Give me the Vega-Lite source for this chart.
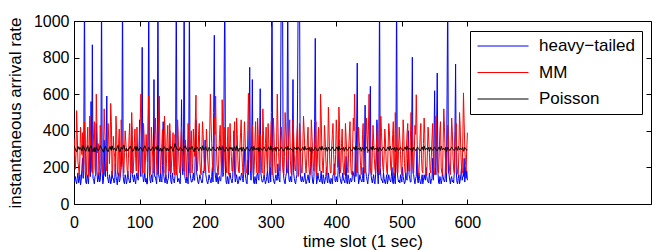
{
"$schema":"https://vega.github.io/schema/vega-lite/v6.json",
"width":577,"height":183,
"autosize":{"type":"none"},
"padding":{"left":74,"top":21,"right":13,"bottom":46},
"background":"white",
"config":{"view":{"stroke":"#000","strokeWidth":1},"font":"Liberation Sans"},
"data":{"values":[
{"t":0,"h":120,"m":360,"p":320},{"t":1,"h":135,"m":300,"p":308},{"t":2,"h":150,"m":190,"p":300},{"t":3,"h":125,"m":270,"p":292},{"t":4,"h":110,"m":510,"p":285},
{"t":5,"h":140,"m":380,"p":298},{"t":6,"h":170,"m":230,"p":315},{"t":7,"h":115,"m":200,"p":306},{"t":8,"h":130,"m":160,"p":298},{"t":9,"h":160,"m":250,"p":310},
{"t":10,"h":105,"m":420,"p":305},{"t":11,"h":130,"m":330,"p":296},{"t":12,"h":190,"m":270,"p":290},{"t":13,"h":250,"m":390,"p":302},{"t":14,"h":140,"m":180,"p":322},
{"t":15,"h":400,"m":220,"p":311},{"t":16,"h":1200,"m":450,"p":300},{"t":17,"h":180,"m":340,"p":294},{"t":18,"h":120,"m":210,"p":288},{"t":19,"h":110,"m":160,"p":299},
{"t":20,"h":160,"m":330,"p":310},{"t":21,"h":140,"m":420,"p":318},{"t":22,"h":110,"m":150,"p":296},{"t":23,"h":170,"m":240,"p":287},{"t":24,"h":300,"m":480,"p":305},
{"t":25,"h":150,"m":360,"p":312},{"t":26,"h":560,"m":250,"p":318},{"t":27,"h":200,"m":180,"p":303},{"t":28,"h":870,"m":170,"p":292},{"t":29,"h":140,"m":290,"p":286},
{"t":30,"h":130,"m":390,"p":300},{"t":31,"h":110,"m":450,"p":309},{"t":32,"h":150,"m":200,"p":284},{"t":33,"h":160,"m":160,"p":296},{"t":34,"h":440,"m":600,"p":312},
{"t":35,"h":180,"m":420,"p":304},{"t":36,"h":120,"m":280,"p":300},{"t":37,"h":135,"m":330,"p":291},{"t":38,"h":170,"m":160,"p":295},{"t":39,"h":120,"m":210,"p":305},
{"t":40,"h":130,"m":430,"p":320},{"t":41,"h":200,"m":360,"p":310},{"t":42,"h":1200,"m":240,"p":305},{"t":43,"h":170,"m":180,"p":297},{"t":44,"h":110,"m":170,"p":290},
{"t":45,"h":130,"m":310,"p":283},{"t":46,"h":350,"m":520,"p":300},{"t":47,"h":160,"m":400,"p":308},{"t":48,"h":150,"m":310,"p":315},{"t":49,"h":280,"m":230,"p":305},
{"t":50,"h":590,"m":180,"p":298},{"t":51,"h":150,"m":260,"p":290},{"t":52,"h":130,"m":440,"p":286},{"t":53,"h":115,"m":350,"p":298},{"t":54,"h":160,"m":220,"p":308},
{"t":55,"h":140,"m":300,"p":314},{"t":56,"h":110,"m":550,"p":300},{"t":57,"h":125,"m":450,"p":293},{"t":58,"h":180,"m":160,"p":318},{"t":59,"h":140,"m":190,"p":306},
{"t":60,"h":140,"m":370,"p":296},{"t":61,"h":115,"m":290,"p":302},{"t":62,"h":120,"m":260,"p":304},{"t":63,"h":220,"m":180,"p":295},{"t":64,"h":150,"m":480,"p":290},
{"t":65,"h":130,"m":400,"p":299},{"t":66,"h":105,"m":190,"p":312},{"t":67,"h":150,"m":160,"p":320},{"t":68,"h":170,"m":330,"p":300},{"t":69,"h":120,"m":410,"p":293},
{"t":70,"h":130,"m":150,"p":285},{"t":71,"h":165,"m":230,"p":297},{"t":72,"h":200,"m":460,"p":310},{"t":73,"h":300,"m":350,"p":303},{"t":74,"h":1200,"m":240,"p":300},
{"t":75,"h":150,"m":200,"p":311},{"t":76,"h":120,"m":170,"p":322},{"t":77,"h":110,"m":280,"p":308},{"t":78,"h":160,"m":400,"p":295},{"t":79,"h":140,"m":340,"p":289},
{"t":80,"h":110,"m":280,"p":305},{"t":81,"h":130,"m":190,"p":298},{"t":82,"h":180,"m":160,"p":290},{"t":83,"h":145,"m":250,"p":301},{"t":84,"h":130,"m":370,"p":300},
{"t":85,"h":115,"m":440,"p":312},{"t":86,"h":120,"m":210,"p":316},{"t":87,"h":200,"m":170,"p":305},{"t":88,"h":420,"m":500,"p":298},{"t":89,"h":160,"m":380,"p":290},
{"t":90,"h":140,"m":170,"p":288},{"t":91,"h":120,"m":230,"p":297},{"t":92,"h":160,"m":330,"p":306},{"t":93,"h":130,"m":410,"p":314},{"t":94,"h":110,"m":250,"p":300},
{"t":95,"h":150,"m":180,"p":292},{"t":96,"h":170,"m":420,"p":314},{"t":97,"h":140,"m":300,"p":305},{"t":98,"h":130,"m":160,"p":292},{"t":99,"h":250,"m":240,"p":300},
{"t":100,"h":460,"m":360,"p":300},{"t":101,"h":180,"m":450,"p":309},{"t":102,"h":150,"m":600,"p":308},{"t":103,"h":380,"m":320,"p":300},{"t":104,"h":856,"m":200,"p":295},
{"t":105,"h":160,"m":170,"p":288},{"t":106,"h":120,"m":440,"p":305},{"t":107,"h":140,"m":360,"p":312},{"t":108,"h":170,"m":170,"p":318},{"t":109,"h":120,"m":240,"p":306},
{"t":110,"h":140,"m":380,"p":300},{"t":111,"h":110,"m":300,"p":293},{"t":112,"h":110,"m":230,"p":288},{"t":113,"h":300,"m":420,"p":299},{"t":114,"h":1200,"m":590,"p":310},
{"t":115,"h":170,"m":380,"p":303},{"t":116,"h":130,"m":160,"p":300},{"t":117,"h":115,"m":210,"p":291},{"t":118,"h":160,"m":420,"p":296},{"t":119,"h":140,"m":330,"p":304},
{"t":120,"h":120,"m":260,"p":312},{"t":121,"h":250,"m":170,"p":301},{"t":122,"h":680,"m":180,"p":290},{"t":123,"h":150,"m":300,"p":297},{"t":124,"h":150,"m":470,"p":305},
{"t":125,"h":130,"m":380,"p":313},{"t":126,"h":110,"m":210,"p":300},{"t":127,"h":200,"m":160,"p":294},{"t":128,"h":1200,"m":380,"p":318},{"t":129,"h":160,"m":450,"p":308},
{"t":130,"h":140,"m":590,"p":296},{"t":131,"h":120,"m":300,"p":289},{"t":132,"h":170,"m":170,"p":305},{"t":133,"h":130,"m":240,"p":298},{"t":134,"h":120,"m":330,"p":288},
{"t":135,"h":210,"m":410,"p":300},{"t":136,"h":450,"m":220,"p":300},{"t":137,"h":150,"m":170,"p":311},{"t":138,"h":130,"m":480,"p":312},{"t":139,"h":115,"m":370,"p":302},
{"t":140,"h":160,"m":150,"p":298},{"t":141,"h":140,"m":220,"p":290},{"t":142,"h":110,"m":360,"p":306},{"t":143,"h":130,"m":430,"p":297},{"t":144,"h":140,"m":250,"p":290},
{"t":145,"h":200,"m":180,"p":303},{"t":146,"h":400,"m":440,"p":300},{"t":147,"h":160,"m":330,"p":314},{"t":148,"h":120,"m":170,"p":316},{"t":149,"h":110,"m":240,"p":305},
{"t":150,"h":170,"m":300,"p":295},{"t":151,"h":140,"m":390,"p":288},{"t":152,"h":130,"m":200,"p":305},{"t":153,"h":115,"m":160,"p":312},{"t":154,"h":150,"m":380,"p":330},
{"t":155,"h":350,"m":300,"p":318},{"t":156,"h":1200,"m":160,"p":310},{"t":157,"h":180,"m":230,"p":299},{"t":158,"h":120,"m":460,"p":300},{"t":159,"h":130,"m":380,"p":293},
{"t":160,"h":140,"m":230,"p":290},{"t":161,"h":120,"m":170,"p":302},{"t":162,"h":110,"m":170,"p":312},{"t":163,"h":250,"m":340,"p":305},{"t":164,"h":570,"m":420,"p":300},
{"t":165,"h":200,"m":280,"p":291},{"t":166,"h":160,"m":270,"p":296},{"t":167,"h":300,"m":180,"p":304},{"t":168,"h":1200,"m":180,"p":305},{"t":169,"h":150,"m":300,"p":313},
{"t":170,"h":130,"m":350,"p":318},{"t":171,"h":115,"m":240,"p":306},{"t":172,"h":150,"m":150,"p":300},{"t":173,"h":140,"m":280,"p":294},{"t":174,"h":110,"m":440,"p":288},
{"t":175,"h":240,"m":360,"p":297},{"t":176,"h":1200,"m":200,"p":308},{"t":177,"h":170,"m":170,"p":300},{"t":178,"h":140,"m":330,"p":300},{"t":179,"h":120,"m":400,"p":310},
{"t":180,"h":120,"m":170,"p":315},{"t":181,"h":140,"m":220,"p":303},{"t":182,"h":170,"m":410,"p":294},{"t":183,"h":130,"m":330,"p":286},{"t":184,"h":130,"m":260,"p":305},
{"t":185,"h":280,"m":450,"p":299},{"t":186,"h":460,"m":595,"p":300},{"t":187,"h":170,"m":300,"p":308},{"t":188,"h":150,"m":180,"p":312},{"t":189,"h":120,"m":240,"p":302},
{"t":190,"h":110,"m":380,"p":290},{"t":191,"h":135,"m":440,"p":297},{"t":192,"h":160,"m":230,"p":303},{"t":193,"h":140,"m":170,"p":311},{"t":194,"h":130,"m":160,"p":300},
{"t":195,"h":115,"m":300,"p":292},{"t":196,"h":120,"m":450,"p":318},{"t":197,"h":180,"m":380,"p":307},{"t":198,"h":170,"m":270,"p":295},{"t":199,"h":220,"m":190,"p":300},
{"t":200,"h":350,"m":180,"p":305},{"t":201,"h":160,"m":260,"p":313},{"t":202,"h":140,"m":410,"p":300},{"t":203,"h":120,"m":330,"p":292},{"t":204,"h":110,"m":240,"p":288},
{"t":205,"h":130,"m":190,"p":297},{"t":206,"h":160,"m":170,"p":310},{"t":207,"h":140,"m":400,"p":304},{"t":208,"h":130,"m":600,"p":300},{"t":209,"h":115,"m":450,"p":290},
{"t":210,"h":150,"m":330,"p":296},{"t":211,"h":200,"m":230,"p":305},{"t":212,"h":120,"m":180,"p":312},{"t":213,"h":500,"m":320,"p":301},{"t":214,"h":922,"m":470,"p":300},
{"t":215,"h":180,"m":380,"p":294},{"t":216,"h":140,"m":590,"p":290},{"t":217,"h":120,"m":330,"p":298},{"t":218,"h":170,"m":220,"p":305},{"t":219,"h":130,"m":180,"p":311},
{"t":220,"h":110,"m":160,"p":300},{"t":221,"h":145,"m":270,"p":293},{"t":222,"h":150,"m":380,"p":316},{"t":223,"h":125,"m":430,"p":307},{"t":224,"h":130,"m":250,"p":296},
{"t":225,"h":210,"m":180,"p":300},{"t":226,"h":320,"m":570,"p":305},{"t":227,"h":150,"m":400,"p":312},{"t":228,"h":160,"m":170,"p":300},{"t":229,"h":700,"m":240,"p":292},
{"t":230,"h":1200,"m":420,"p":288},{"t":231,"h":180,"m":350,"p":298},{"t":232,"h":120,"m":210,"p":310},{"t":233,"h":110,"m":170,"p":303},{"t":234,"h":150,"m":340,"p":300},
{"t":235,"h":130,"m":420,"p":291},{"t":236,"h":110,"m":160,"p":296},{"t":237,"h":160,"m":230,"p":305},{"t":238,"h":170,"m":440,"p":312},{"t":239,"h":140,"m":330,"p":300},
{"t":240,"h":130,"m":260,"p":300},{"t":241,"h":115,"m":180,"p":309},{"t":242,"h":140,"m":180,"p":290},{"t":243,"h":250,"m":290,"p":297},{"t":244,"h":400,"m":370,"p":305},
{"t":245,"h":170,"m":450,"p":313},{"t":246,"h":120,"m":150,"p":300},{"t":247,"h":140,"m":210,"p":292},{"t":248,"h":160,"m":470,"p":318},{"t":249,"h":130,"m":380,"p":306},
{"t":250,"h":110,"m":240,"p":295},{"t":251,"h":120,"m":180,"p":288},{"t":252,"h":150,"m":170,"p":305},{"t":253,"h":135,"m":300,"p":299},{"t":254,"h":130,"m":390,"p":300},
{"t":255,"h":160,"m":460,"p":310},{"t":256,"h":170,"m":280,"p":288},{"t":257,"h":140,"m":200,"p":296},{"t":258,"h":120,"m":160,"p":310},{"t":259,"h":200,"m":330,"p":302},
{"t":260,"h":300,"m":450,"p":300},{"t":261,"h":170,"m":360,"p":291},{"t":262,"h":140,"m":220,"p":296},{"t":263,"h":115,"m":170,"p":305},{"t":264,"h":110,"m":170,"p":312},
{"t":265,"h":240,"m":400,"p":303},{"t":266,"h":160,"m":605,"p":300},{"t":267,"h":450,"m":420,"p":293},{"t":268,"h":747,"m":300,"p":290},{"t":269,"h":200,"m":230,"p":298},
{"t":270,"h":130,"m":180,"p":305},{"t":271,"h":300,"m":340,"p":313},{"t":272,"h":680,"m":430,"p":300},{"t":273,"h":180,"m":280,"p":292},{"t":274,"h":120,"m":160,"p":316},
{"t":275,"h":110,"m":210,"p":306},{"t":276,"h":150,"m":350,"p":296},{"t":277,"h":130,"m":450,"p":301},{"t":278,"h":110,"m":240,"p":305},{"t":279,"h":160,"m":170,"p":296},
{"t":280,"h":170,"m":470,"p":300},{"t":281,"h":140,"m":380,"p":310},{"t":282,"h":130,"m":170,"p":288},{"t":283,"h":300,"m":240,"p":295},{"t":284,"h":630,"m":380,"p":310},
{"t":285,"h":170,"m":300,"p":302},{"t":286,"h":140,"m":200,"p":300},{"t":287,"h":120,"m":170,"p":293},{"t":288,"h":120,"m":520,"p":296},{"t":289,"h":140,"m":400,"p":305},
{"t":290,"h":160,"m":160,"p":312},{"t":291,"h":130,"m":230,"p":303},{"t":292,"h":110,"m":330,"p":300},{"t":293,"h":125,"m":420,"p":290},{"t":294,"h":150,"m":250,"p":290},
{"t":295,"h":180,"m":180,"p":299},{"t":296,"h":130,"m":440,"p":305},{"t":297,"h":115,"m":350,"p":313},{"t":298,"h":170,"m":180,"p":300},{"t":299,"h":200,"m":240,"p":294},
{"t":300,"h":120,"m":360,"p":318},{"t":301,"h":500,"m":450,"p":306},{"t":302,"h":1200,"m":160,"p":295},{"t":303,"h":180,"m":210,"p":288},{"t":304,"h":140,"m":470,"p":305},
{"t":305,"h":120,"m":390,"p":297},{"t":306,"h":110,"m":230,"p":300},{"t":307,"h":140,"m":170,"p":310},{"t":308,"h":160,"m":170,"p":288},{"t":309,"h":130,"m":320,"p":296},
{"t":310,"h":130,"m":600,"p":310},{"t":311,"h":220,"m":430,"p":303},{"t":312,"h":150,"m":280,"p":300},{"t":313,"h":130,"m":200,"p":292},{"t":314,"h":120,"m":180,"p":296},
{"t":315,"h":400,"m":300,"p":305},{"t":316,"h":1200,"m":420,"p":312},{"t":317,"h":1200,"m":350,"p":304},{"t":318,"h":1200,"m":220,"p":300},{"t":319,"h":200,"m":170,"p":290},
{"t":320,"h":140,"m":160,"p":290},{"t":321,"h":120,"m":260,"p":298},{"t":322,"h":110,"m":500,"p":305},{"t":323,"h":150,"m":400,"p":311},{"t":324,"h":170,"m":300,"p":300},
{"t":325,"h":450,"m":200,"p":294},{"t":326,"h":1200,"m":170,"p":316},{"t":327,"h":180,"m":290,"p":307},{"t":328,"h":130,"m":400,"p":296},{"t":329,"h":120,"m":460,"p":302},
{"t":330,"h":150,"m":240,"p":305},{"t":331,"h":130,"m":170,"p":298},{"t":332,"h":120,"m":160,"p":300},{"t":333,"h":300,"m":300,"p":293},{"t":334,"h":680,"m":460,"p":288},
{"t":335,"h":170,"m":380,"p":297},{"t":336,"h":140,"m":270,"p":310},{"t":337,"h":120,"m":190,"p":303},{"t":338,"h":110,"m":180,"p":300},{"t":339,"h":140,"m":270,"p":309},
{"t":340,"h":160,"m":380,"p":296},{"t":341,"h":600,"m":440,"p":300},{"t":342,"h":1200,"m":150,"p":312},{"t":343,"h":1200,"m":200,"p":305},{"t":344,"h":1200,"m":440,"p":300},
{"t":345,"h":170,"m":360,"p":291},{"t":346,"h":130,"m":230,"p":290},{"t":347,"h":120,"m":170,"p":298},{"t":348,"h":150,"m":170,"p":305},{"t":349,"h":130,"m":320,"p":312},
{"t":350,"h":120,"m":480,"p":300},{"t":351,"h":140,"m":400,"p":293},{"t":352,"h":170,"m":300,"p":316},{"t":353,"h":130,"m":210,"p":308},{"t":354,"h":110,"m":170,"p":296},
{"t":355,"h":125,"m":250,"p":301},{"t":356,"h":140,"m":360,"p":305},{"t":357,"h":160,"m":420,"p":297},{"t":358,"h":130,"m":220,"p":300},{"t":359,"h":115,"m":170,"p":310},
{"t":360,"h":160,"m":160,"p":288},{"t":361,"h":200,"m":280,"p":295},{"t":362,"h":300,"m":460,"p":310},{"t":363,"h":160,"m":370,"p":302},{"t":364,"h":120,"m":270,"p":300},
{"t":365,"h":110,"m":200,"p":292},{"t":366,"h":150,"m":180,"p":296},{"t":367,"h":450,"m":290,"p":305},{"t":368,"h":905,"m":400,"p":312},{"t":369,"h":200,"m":450,"p":303},
{"t":370,"h":110,"m":160,"p":300},{"t":371,"h":130,"m":220,"p":291},{"t":372,"h":170,"m":340,"p":290},{"t":373,"h":140,"m":420,"p":300},{"t":374,"h":130,"m":220,"p":305},
{"t":375,"h":120,"m":180,"p":312},{"t":376,"h":140,"m":600,"p":300},{"t":377,"h":180,"m":480,"p":294},{"t":378,"h":120,"m":300,"p":316},{"t":379,"h":110,"m":210,"p":306},
{"t":380,"h":160,"m":170,"p":296},{"t":381,"h":140,"m":260,"p":302},{"t":382,"h":110,"m":430,"p":305},{"t":383,"h":130,"m":360,"p":297},{"t":384,"h":150,"m":250,"p":300},
{"t":385,"h":200,"m":180,"p":309},{"t":386,"h":130,"m":160,"p":288},{"t":387,"h":115,"m":290,"p":296},{"t":388,"h":170,"m":530,"p":310},{"t":389,"h":140,"m":400,"p":303},
{"t":390,"h":120,"m":240,"p":300},{"t":391,"h":110,"m":170,"p":292},{"t":392,"h":140,"m":170,"p":296},{"t":393,"h":130,"m":300,"p":305},{"t":394,"h":110,"m":380,"p":312},
{"t":395,"h":160,"m":440,"p":302},{"t":396,"h":160,"m":270,"p":300},{"t":397,"h":220,"m":190,"p":294},{"t":398,"h":130,"m":160,"p":290},{"t":399,"h":120,"m":270,"p":299},
{"t":400,"h":150,"m":460,"p":305},{"t":401,"h":130,"m":380,"p":312},{"t":402,"h":120,"m":200,"p":300},{"t":403,"h":200,"m":250,"p":292},{"t":404,"h":350,"m":530,"p":316},
{"t":405,"h":160,"m":420,"p":306},{"t":406,"h":140,"m":170,"p":296},{"t":407,"h":120,"m":200,"p":301},{"t":408,"h":110,"m":330,"p":305},{"t":409,"h":140,"m":410,"p":297},
{"t":410,"h":170,"m":240,"p":300},{"t":411,"h":130,"m":180,"p":309},{"t":412,"h":130,"m":160,"p":288},{"t":413,"h":115,"m":250,"p":296},{"t":414,"h":150,"m":440,"p":310},
{"t":415,"h":260,"m":360,"p":302},{"t":416,"h":120,"m":280,"p":300},{"t":417,"h":110,"m":200,"p":293},{"t":418,"h":160,"m":170,"p":296},{"t":419,"h":140,"m":300,"p":305},
{"t":420,"h":110,"m":390,"p":312},{"t":421,"h":130,"m":450,"p":303},{"t":422,"h":140,"m":220,"p":300},{"t":423,"h":120,"m":170,"p":291},{"t":424,"h":130,"m":160,"p":290},
{"t":425,"h":180,"m":330,"p":298},{"t":426,"h":170,"m":470,"p":305},{"t":427,"h":150,"m":400,"p":312},{"t":428,"h":120,"m":600,"p":300},{"t":429,"h":300,"m":350,"p":294},
{"t":430,"h":150,"m":250,"p":316},{"t":431,"h":400,"m":180,"p":306},{"t":432,"h":770,"m":170,"p":296},{"t":433,"h":180,"m":290,"p":302},{"t":434,"h":110,"m":420,"p":305},
{"t":435,"h":130,"m":340,"p":297},{"t":436,"h":160,"m":300,"p":300},{"t":437,"h":140,"m":210,"p":310},{"t":438,"h":130,"m":160,"p":288},{"t":439,"h":120,"m":230,"p":296},
{"t":440,"h":140,"m":380,"p":310},{"t":441,"h":200,"m":440,"p":302},{"t":442,"h":120,"m":220,"p":300},{"t":443,"h":300,"m":170,"p":293},{"t":444,"h":540,"m":170,"p":296},
{"t":445,"h":180,"m":320,"p":305},{"t":446,"h":150,"m":470,"p":312},{"t":447,"h":130,"m":380,"p":303},{"t":448,"h":110,"m":280,"p":300},{"t":449,"h":150,"m":400,"p":291},
{"t":450,"h":170,"m":600,"p":290},{"t":451,"h":400,"m":330,"p":298},{"t":452,"h":643,"m":200,"p":305},{"t":453,"h":160,"m":170,"p":312},{"t":454,"h":130,"m":160,"p":300},
{"t":455,"h":115,"m":280,"p":294},{"t":456,"h":140,"m":430,"p":316},{"t":457,"h":160,"m":350,"p":306},{"t":458,"h":120,"m":250,"p":296},{"t":459,"h":110,"m":190,"p":301},
{"t":460,"h":160,"m":170,"p":305},{"t":461,"h":250,"m":300,"p":297},{"t":462,"h":460,"m":380,"p":300},{"t":463,"h":170,"m":440,"p":309},{"t":464,"h":110,"m":230,"p":288},
{"t":465,"h":300,"m":170,"p":296},{"t":466,"h":1200,"m":160,"p":310},{"t":467,"h":200,"m":320,"p":302},{"t":468,"h":150,"m":480,"p":300},{"t":469,"h":130,"m":390,"p":292},
{"t":470,"h":130,"m":290,"p":296},{"t":471,"h":115,"m":200,"p":305},{"t":472,"h":170,"m":170,"p":312},{"t":473,"h":140,"m":270,"p":303},{"t":474,"h":120,"m":410,"p":300},
{"t":475,"h":110,"m":350,"p":294},{"t":476,"h":140,"m":240,"p":290},{"t":477,"h":160,"m":180,"p":298},{"t":478,"h":110,"m":160,"p":305},{"t":479,"h":130,"m":300,"p":312},
{"t":480,"h":160,"m":440,"p":300},{"t":481,"h":140,"m":400,"p":293},{"t":482,"h":130,"m":300,"p":316},{"t":483,"h":120,"m":200,"p":306},{"t":484,"h":150,"m":180,"p":296},
{"t":485,"h":200,"m":270,"p":301},{"t":486,"h":120,"m":380,"p":305},{"t":487,"h":110,"m":450,"p":297},{"t":488,"h":170,"m":160,"p":300},{"t":489,"h":140,"m":230,"p":310},
{"t":490,"h":110,"m":500,"p":288},{"t":491,"h":300,"m":380,"p":296},{"t":492,"h":1200,"m":240,"p":310},{"t":493,"h":180,"m":170,"p":303},{"t":494,"h":140,"m":170,"p":300},
{"t":495,"h":120,"m":300,"p":291},{"t":496,"h":130,"m":420,"p":296},{"t":497,"h":115,"m":350,"p":305},{"t":498,"h":160,"m":270,"p":312},{"t":499,"h":140,"m":190,"p":302},
{"t":500,"h":120,"m":160,"p":300},{"t":501,"h":200,"m":290,"p":293},{"t":502,"h":150,"m":460,"p":290},{"t":503,"h":130,"m":380,"p":299},{"t":504,"h":110,"m":220,"p":305},
{"t":505,"h":120,"m":170,"p":312},{"t":506,"h":170,"m":170,"p":300},{"t":507,"h":140,"m":310,"p":294},{"t":508,"h":130,"m":390,"p":316},{"t":509,"h":250,"m":440,"p":306},
{"t":510,"h":400,"m":260,"p":296},{"t":511,"h":160,"m":180,"p":301},{"t":512,"h":140,"m":180,"p":305},{"t":513,"h":120,"m":350,"p":297},{"t":514,"h":120,"m":500,"p":300},
{"t":515,"h":400,"m":420,"p":309},{"t":516,"h":802,"m":300,"p":288},{"t":517,"h":170,"m":200,"p":296},{"t":518,"h":160,"m":170,"p":310},{"t":519,"h":130,"m":290,"p":302},
{"t":520,"h":110,"m":430,"p":300},{"t":521,"h":140,"m":380,"p":292},{"t":522,"h":150,"m":597,"p":296},{"t":523,"h":300,"m":400,"p":305},{"t":524,"h":130,"m":230,"p":312},
{"t":525,"h":115,"m":170,"p":303},{"t":526,"h":170,"m":160,"p":300},{"t":527,"h":140,"m":270,"p":294},{"t":528,"h":120,"m":380,"p":290},{"t":529,"h":110,"m":440,"p":298},
{"t":530,"h":140,"m":250,"p":305},{"t":531,"h":160,"m":180,"p":312},{"t":532,"h":110,"m":170,"p":300},{"t":533,"h":130,"m":330,"p":293},{"t":534,"h":160,"m":470,"p":316},
{"t":535,"h":140,"m":380,"p":306},{"t":536,"h":130,"m":200,"p":296},{"t":537,"h":200,"m":170,"p":301},{"t":538,"h":150,"m":160,"p":305},{"t":539,"h":130,"m":290,"p":297},
{"t":540,"h":120,"m":420,"p":300},{"t":541,"h":115,"m":360,"p":310},{"t":542,"h":170,"m":280,"p":288},{"t":543,"h":140,"m":190,"p":296},{"t":544,"h":110,"m":170,"p":310},
{"t":545,"h":130,"m":260,"p":302},{"t":546,"h":140,"m":360,"p":300},{"t":547,"h":250,"m":440,"p":293},{"t":548,"h":130,"m":220,"p":296},{"t":549,"h":350,"m":170,"p":305},
{"t":550,"h":619,"m":160,"p":312},{"t":551,"h":200,"m":300,"p":303},{"t":552,"h":160,"m":480,"p":300},{"t":553,"h":400,"m":400,"p":294},{"t":554,"h":716,"m":250,"p":290},
{"t":555,"h":180,"m":190,"p":298},{"t":556,"h":120,"m":170,"p":305},{"t":557,"h":110,"m":280,"p":312},{"t":558,"h":150,"m":400,"p":300},{"t":559,"h":140,"m":450,"p":293},
{"t":560,"h":110,"m":200,"p":316},{"t":561,"h":130,"m":170,"p":306},{"t":562,"h":170,"m":160,"p":296},{"t":563,"h":150,"m":330,"p":301},{"t":564,"h":130,"m":520,"p":305},
{"t":565,"h":120,"m":420,"p":297},{"t":566,"h":140,"m":280,"p":300},{"t":567,"h":300,"m":200,"p":310},{"t":568,"h":120,"m":170,"p":288},{"t":569,"h":600,"m":280,"p":296},
{"t":570,"h":1200,"m":430,"p":310},{"t":571,"h":180,"m":380,"p":302},{"t":572,"h":160,"m":230,"p":300},{"t":573,"h":130,"m":180,"p":292},{"t":574,"h":110,"m":160,"p":296},
{"t":575,"h":140,"m":300,"p":305},{"t":576,"h":150,"m":470,"p":312},{"t":577,"h":120,"m":400,"p":303},{"t":578,"h":130,"m":260,"p":300},{"t":579,"h":115,"m":190,"p":294},
{"t":580,"h":170,"m":170,"p":290},{"t":581,"h":400,"m":320,"p":298},{"t":582,"h":765,"m":390,"p":305},{"t":583,"h":180,"m":440,"p":312},{"t":584,"h":120,"m":220,"p":300},
{"t":585,"h":110,"m":170,"p":293},{"t":586,"h":140,"m":160,"p":316},{"t":587,"h":160,"m":280,"p":306},{"t":588,"h":110,"m":500,"p":296},{"t":589,"h":130,"m":420,"p":301},
{"t":590,"h":160,"m":280,"p":305},{"t":591,"h":200,"m":200,"p":297},{"t":592,"h":130,"m":170,"p":300},{"t":593,"h":150,"m":350,"p":310},{"t":594,"h":150,"m":607,"p":288},
{"t":595,"h":250,"m":450,"p":296},{"t":596,"h":120,"m":300,"p":310},{"t":597,"h":200,"m":230,"p":302},{"t":598,"h":140,"m":180,"p":300},{"t":599,"h":180,"m":300,"p":293},
{"t":600,"h":130,"m":390,"p":296}
]},
"transform":[{"fold":["h","m","p"],"as":["s","v"]}],
"layer":[
{"mark":{"type":"line","strokeWidth":1,"clip":true},
 "encoding":{
  "x":{"field":"t","type":"quantitative","scale":{"domain":[0,880],"nice":false,"zero":false},
       "axis":{"orient":"bottom","values":[0,100,200,300,400,500,600],"title":"time slot (1 sec)","grid":false,"domain":false,"tickSize":-5,"tickColor":"#000","labelPadding":15,"labelFontSize":16,"labelColor":"#000","labelFlush":false,"titleFontSize":17,"titleFontWeight":"normal","titleColor":"#000","titlePadding":3}},
  "y":{"field":"v","type":"quantitative","scale":{"domain":[0,1000],"nice":false},
       "axis":{"orient":"left","values":[0,200,400,600,800,1000],"format":"d","title":"instantaneous arrival rate","grid":false,"domain":false,"tickSize":-5,"tickColor":"#000","labelPadding":10,"labelFontSize":16,"labelColor":"#000","labelFlush":false,"titleFontSize":17,"titleFontWeight":"normal","titleColor":"#000","titlePadding":9}},
  "color":{"field":"s","type":"nominal","scale":{"domain":["h","m","p"],"range":["#0000ff","#ff0000","#000000"]},
       "legend":{"orient":"none","legendX":396,"legendY":10,"title":null,"padding":7,"strokeColor":"#000","fillColor":"#fff","labelFontSize":17,"labelColor":"#000","symbolType":"stroke","symbolSize":2601,"symbolStrokeWidth":1,"clipHeight":16,"rowPadding":9.5,"labelOffset":10,
       "labelExpr":"datum.value == 'h' ? 'heavy−tailed' : datum.value == 'm' ? 'MM' : 'Poisson'",
       "encode":{"symbols":{"update":{"stroke":{"scale":"color","field":"value"}}}}}}
 }},
{"mark":{"type":"line","opacity":0,"clip":true},
 "encoding":{
  "x":{"field":"t","type":"quantitative","scale":{"domain":[0,880],"nice":false,"zero":false},
       "axis":{"orient":"top","values":[0,100,200,300,400,500,600],"title":null,"labels":false,"grid":false,"domain":false,"tickSize":-5,"tickColor":"#000"}},
  "y":{"field":"v","type":"quantitative","scale":{"domain":[0,1000],"nice":false},
       "axis":{"orient":"right","values":[0,200,400,600,800,1000],"title":null,"labels":false,"grid":false,"domain":false,"tickSize":-5,"tickColor":"#000"}},
  "detail":{"field":"s"}
 }}
],
"resolve":{"scale":{"x":"independent","y":"independent"},"axis":{"x":"independent","y":"independent"}}
}
